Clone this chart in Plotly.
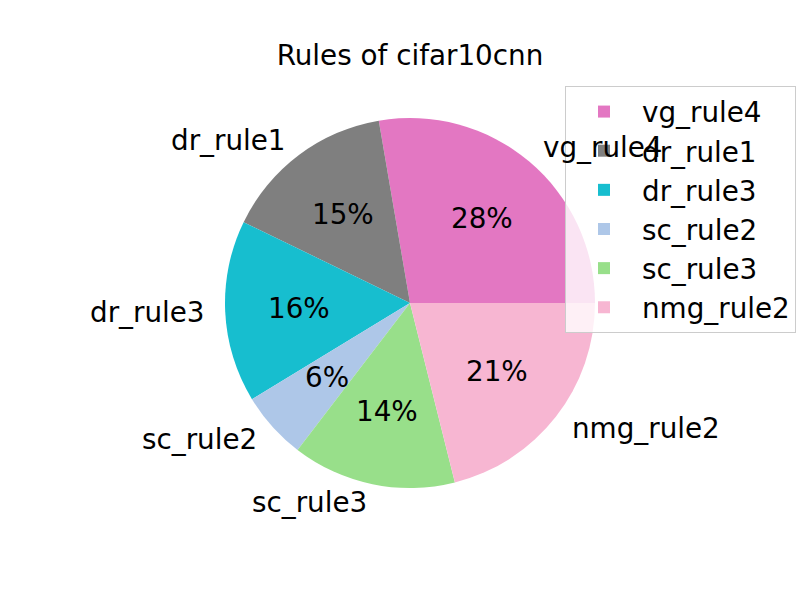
import math
import plotly.graph_objects as go

labels = ["vg_rule4", "dr_rule1", "dr_rule3", "sc_rule2", "sc_rule3", "nmg_rule2"]
values = [27.7, 15.1, 15.9, 5.9, 14.3, 21.1]
colors = ["#e377c2", "#7f7f7f", "#17becf", "#aec7e8", "#98df8a", "#f7b6d2"]
title = "Rules of cifar10cnn"

W, H = 800, 600
cx, cy, R = 410, 303, 185
FONT = "DejaVu Sans"
FS = 27.8

total = sum(values)

fig = go.Figure()
fig.add_trace(go.Pie(
    labels=labels, values=values, sort=False, direction="counterclockwise",
    rotation=90 - 360.0 * values[0] / total, textinfo="none", hoverinfo="label+percent",
    marker=dict(colors=colors, line=dict(width=0)),
    domain=dict(x=[(cx - R) / W, (cx + R) / W], y=[1 - (cy + R) / H, 1 - (cy - R) / H]),
))

ang = 0.0
annotations = []
for lab, v in zip(labels, values):
    span = 360.0 * v / total
    mid = math.radians(ang + span / 2)
    ang += span
    lx = cx + 1.1 * R * math.cos(mid)
    ly = cy - 1.1 * R * math.sin(mid)
    annotations.append(dict(
        x=lx / W, y=1 - ly / H, xref="paper", yref="paper", text=lab, showarrow=False,
        xanchor="left" if math.cos(mid) > 0 else "right", yanchor="middle",
        font=dict(family=FONT, size=FS, color="black"),
    ))
    px = cx + 0.6 * R * math.cos(mid)
    py = cy - 0.6 * R * math.sin(mid)
    annotations.append(dict(
        x=px / W, y=1 - py / H, xref="paper", yref="paper",
        text="%d%%" % round(100 * v / total), showarrow=False,
        xanchor="center", yanchor="middle",
        font=dict(family=FONT, size=FS, color="black"),
    ))

fig.update_layout(
    width=W, height=H, margin=dict(l=0, r=0, t=0, b=0),
    paper_bgcolor="white", plot_bgcolor="white",
    title=dict(text=title, x=cx / W, xanchor="center", y=1 - 55 / H, yanchor="middle",
               font=dict(family=FONT, size=FS, color="black")),
    annotations=annotations,
    showlegend=True,
    legend=dict(x=565 / W, y=1 - 86 / H, xanchor="left", yanchor="top",
                bgcolor="rgba(255,255,255,0.8)", bordercolor="#cccccc", borderwidth=1,
                font=dict(family=FONT, size=FS, color="black"),
                itemwidth=66, tracegroupgap=0),
)
fig.write_html("out.html")
